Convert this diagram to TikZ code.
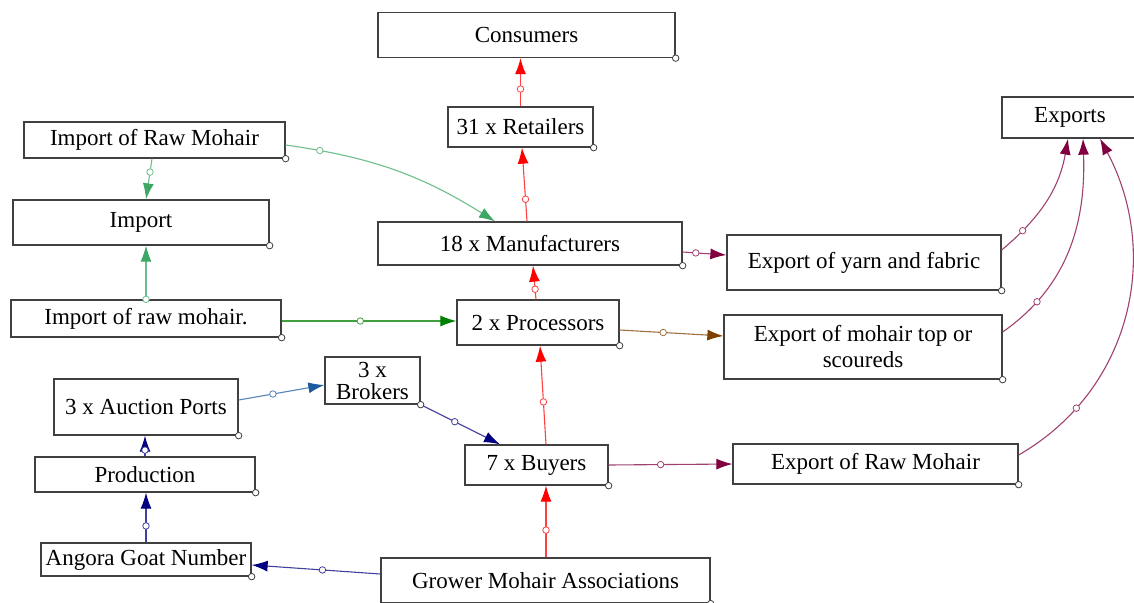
\documentclass[tikz,border=0pt]{standalone}
\usepackage{fontspec}
\setmainfont{Liberation Serif}
\usetikzlibrary{arrows.meta,calc}
\definecolor{impgreen}{RGB}{60,168,100}
\definecolor{rawgreen}{RGB}{0,128,0}
\definecolor{expurple}{RGB}{128,0,64}
\definecolor{topbrown}{RGB}{128,64,0}
\definecolor{portblue}{RGB}{30,90,160}
\definecolor{goatblue}{RGB}{0,0,128}
\definecolor{boxgray}{RGB}{64,64,64}

\begin{document}
\begin{tikzpicture}[x=1pt,y=1pt,
  stock box/.style={draw=boxgray,line width=1.3pt,fill=white,inner sep=0pt,align=center,
    font=\fontsize{23}{22}\selectfont},
  corner dot/.style={circle,draw=boxgray,fill=white,line width=0.8pt,inner sep=0pt,minimum size=6.5pt},
  link/.style={draw=#1!75,line width=1.1pt,-{Latex[length=16pt,width=11pt,color=#1]}},
  mid dot/.style={circle,draw=#1!75,fill=white,line width=0.8pt,inner sep=0pt,minimum size=6.5pt}]

\useasboundingbox (0,0) rectangle (1134,-602);

\node[stock box,minimum width=297,minimum height=45] (con) at (526.5,-35) {Consumers};
\node[stock box,minimum width=145,minimum height=40] (ret) at (520.5,-127) {31 x Retailers};
\node[stock box,minimum width=261,minimum height=36] (imr) at (154.5,-140) {Import of Raw Mohair};
\node[stock box,minimum width=256,minimum height=45] (imp) at (141,-222.5) {Import};
\node[stock box,minimum width=136,minimum height=41] (exp) at (1070,-117.5) {Exports};
\node[stock box,minimum width=304,minimum height=43] (man) at (530,-243.5) {18 x Manufacturers};
\node[stock box,minimum width=274,minimum height=55] (eyf) at (864,-262.5) {Export of yarn and fabric};
\node[stock box,minimum width=270,minimum height=37] (irm) at (146,-318.5) {Import of raw mohair.};
\node[stock box,minimum width=162,minimum height=45] (pro) at (538,-322.5) {2 x Processors};
\node[stock box,minimum width=278,minimum height=64] (emt) at (863,-347) {Export of mohair top or\\[4pt] scoureds};
\node[stock box,minimum width=95,minimum height=47] (bro) at (372.5,-380.5) {3 x\\ Brokers};
\node[stock box,minimum width=184,minimum height=56] (auc) at (146,-407) {3 x Auction Ports};
\node[stock box,minimum width=220,minimum height=35] (prd) at (145,-474.5) {Production};
\node[stock box,minimum width=143,minimum height=40] (buy) at (536.5,-465) {7 x Buyers};
\node[stock box,minimum width=285,minimum height=40] (erm) at (875.5,-464) {Export of Raw Mohair};
\node[stock box,minimum width=210,minimum height=33] (ang) at (146,-559.5) {Angora Goat Number};
\node[stock box,minimum width=329,minimum height=45] (gro) at (545.5,-580.5) {Grower Mohair Associations};

% main chain up to the consumers
\path
(ret.north) edge [link=red] node[mid dot=red,pos=.36] {} (ret.north |- con.south)
($(man.north)+(-3,0)$) edge [link=red] node[mid dot=red,pos=.3] {} ($(ret.south)+(1.5,0)$)
($(pro.north)+(-2,0)$) edge [link=red] node[mid dot=red,pos=.3] {} ($(man.south)+(3,0)$)
($(buy.north)+(9.5,0)$) edge [link=red] node[mid dot=red,pos=.43] {} ($(pro.south)+(2,0)$)
($(gro.north)+(0.5,0)$) edge [link=red] node[mid dot=red,pos=.38] {} ($(buy.south)+(9.5,0)$);

\path
($(imr.south)+(-2.5,0)$) edge [link=impgreen] node[mid dot=impgreen,pos=.33] {} ($(imp.north)+(5,0)$)
(irm.north) edge [link=impgreen] node[mid dot=impgreen,pos=0] {} (irm.north |- imp.south)
($(imr.east)+(0,-5)$) edge [link=impgreen,bend left=12] node[mid dot=impgreen,pos=.14] {} ($(man.north)+(-35,0)$)
($(irm.east)+(0,-2.5)$) edge [link=rawgreen] node[mid dot=rawgreen,pos=.45] {} ($(pro.west)+(0,1.5)$);

\path
($(man.east)+(0,-8.5)$) edge [link=expurple] node[mid dot=expurple,pos=.3] {} ($(eyf.west)+(0,7.5)$)
($(pro.east)+(0,-7.5)$) edge [link=topbrown] node[mid dot=topbrown,pos=.42] {} ($(emt.west)+(0,11)$)
(buy.east) edge [link=expurple] node[mid dot=expurple,pos=.42] {} (erm.west)
($(eyf.east)+(0,12.5)$) edge [link=expurple,out=40,in=-100] node[mid dot=expurple,pos=.2] {} ($(exp.south)+(-2,0)$)
($(emt.east)+(0,15)$) edge [link=expurple,out=35,in=-88] node[mid dot=expurple,pos=.2] {} ($(exp.south)+(13,0)$)
($(erm.east)+(0,9)$) edge [link=expurple,out=30,in=-62,looseness=1.02] node[mid dot=expurple,pos=.2] {} ($(exp.south)+(30,0)$);

\path
($(auc.east)+(0,7)$) edge [link=portblue] node[mid dot=portblue,pos=.4] {} ($(bro.west)+(0,-4.5)$)
(bro.south east) edge [link=goatblue] node[mid dot=goatblue,pos=.43] {} ($(buy.north)+(-36.5,0)$)
(prd.north) edge [link=goatblue] node[mid dot=goatblue,pos=.3] {} (prd.north |- auc.south)
(ang.north) edge [link=goatblue] node[mid dot=goatblue,pos=.33] {} (ang.north |- prd.south)
($(gro.west)+(0,6.5)$) edge [link=goatblue] node[mid dot=goatblue,pos=.45] {} ($(ang.east)+(0,-5.5)$);

\foreach \n in {con,ret,imr,imp,exp,man,eyf,irm,pro,emt,bro,auc,prd,buy,erm,ang,gro}
  \node[corner dot] (\n-dot) at (\n.south east) {};
\end{tikzpicture}
\end{document}
